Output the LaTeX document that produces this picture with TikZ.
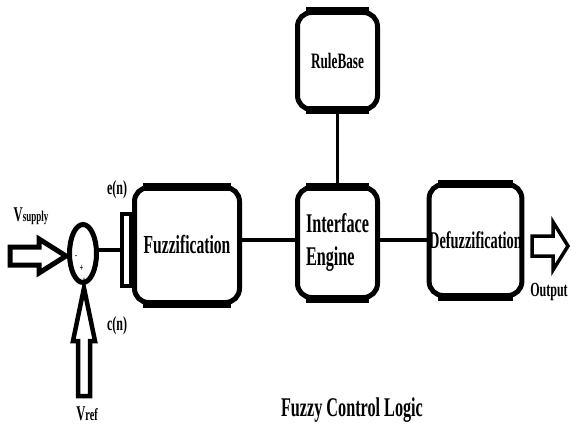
\documentclass[tikz,border=0pt]{standalone}
\usepackage{fontspec}
\setmainfont{Liberation Serif}[FakeStretch=0.6]
\usetikzlibrary{shapes.geometric}
\tikzset{
  blk/.style={draw, line width=5pt, rounded corners=14pt, inner sep=0pt, font=\bfseries},
  hconn/.style={line width=3.5pt},
  vconn/.style={line width=2.2pt},
  barrow/.style={draw, fill=white, line width=4.5pt, line join=miter},
  lbl/.style={inner sep=0pt, font=\bfseries}
}
\newcommand{\fs}[1]{\fontsize{#1}{#1}\selectfont}
\begin{document}
\begin{tikzpicture}[x=1pt,y=-1pt]
\useasboundingbox (0,0) rectangle (571,428);
% boxes
\node[blk, minimum width=105pt, minimum height=115pt, font=\bfseries\fs{26}] (fuzz) at (187,245) {Fuzzification};
\node[blk, minimum width=80pt, minimum height=110pt, align=left, font=\bfseries\fontsize{27}{33}\selectfont] (inter) at (337.5,242.5) {Interface\\Engine};
\node[blk, minimum width=92pt, minimum height=111pt, font=\bfseries\fs{24}] (defuzz) at (475.5,240) {Defuzzification};
\node[blk, minimum width=80pt, minimum height=97pt, font=\bfseries\fs{22}] (rule) at (337.5,61) {RuleBase};
% thicker top and bottom edges
\foreach \b in {fuzz,inter,defuzz,rule}{
  \draw[line width=8pt] ([xshift=11pt,yshift=-1.5pt]\b.north west) -- ([xshift=-11pt,yshift=-1.5pt]\b.north east);
  \draw[line width=8pt] ([xshift=11pt,yshift=1.5pt]\b.south west) -- ([xshift=-11pt,yshift=1.5pt]\b.south east);
}
% small rectangle
\node[draw, line width=4pt, minimum width=9pt, minimum height=72pt, inner sep=0pt] (rect) at (126.5,250) {};
% summing junction
\node[draw, ellipse, line width=5pt, minimum width=27pt, minimum height=58pt, inner sep=0pt] (sum) at (83,253.5) {};
\node[lbl, font=\bfseries\fs{10}] (minus) at (76,257) {-};
\node[lbl, font=\bfseries\fs{11}] (plus) at (81.5,268) {+};
% connectors
\draw[hconn] (sum.east |- 0,250) -- (rect.west |- 0,250);
\draw[hconn] (fuzz.east |- 0,240) -- (inter.west |- 0,240);
\draw[hconn] (inter.east |- 0,240) -- (defuzz.west |- 0,240);
\draw[vconn] (rule.south) -- (inter.north);
% block arrows
\coordinate (vs) at (66,256);
\draw[barrow, line width=5pt] (vs) -- ++(-27,-17) -- ++(0,8) -- ++(-29,0) -- ++(0,18) -- ++(29,0) -- ++(0,8) -- cycle;
\coordinate (vr) at (84,288);
\draw[barrow] (vr) -- ++(11,53) -- ++(-5,0) -- ++(0,55) -- ++(-12,0) -- ++(0,-55) -- ++(-5,0) -- cycle;
\coordinate (out) at (568,246);
\draw[barrow, line width=3.5pt] (out) -- ++(-15,-24) -- ++(0,14) -- ++(-21,0) -- ++(0,20) -- ++(21,0) -- ++(0,14) -- cycle;
% labels
\node[lbl] (vsl) at (31,216) {\fs{21}V\fs{15}supply};
\node[lbl] (vrl) at (87,414) {\fs{21}V\fs{17}ref};
\node[lbl, font=\bfseries\fs{20}] (en) at (117,190) {e(n)};
\node[lbl, font=\bfseries\fs{20}] (cn) at (117,326) {c(n)};
\node[lbl, font=\bfseries\fs{20}] (outl) at (549,292) {Output};
\node[lbl, font=\bfseries\fs{27}] (title) at (352,410) {Fuzzy Control Logic};
\end{tikzpicture}
\end{document}
